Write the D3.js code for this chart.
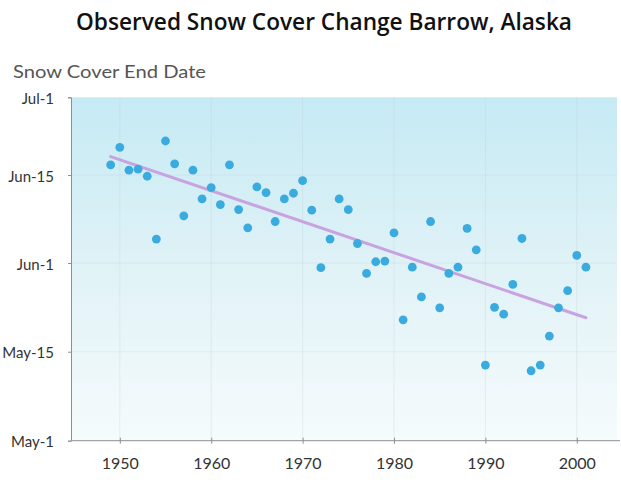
<!DOCTYPE html>
<html>
<head>
<meta charset="utf-8">
<script src="https://cdn.jsdelivr.net/npm/d3@7"></script>
<style>
  html, body { margin: 0; padding: 0; background: #ffffff; }
  svg { display: block; }
</style>
</head>
<body>
<svg id="chart" width="621" height="483"></svg>
<script>
// ---- data ----
const years = [1949,1950,1951,1952,1953,1954,1955,1956,1957,1958,1959,1960,1961,1962,1963,1964,1965,1966,1967,1968,1969,1970,1971,1972,1973,1974,1975,1976,1977,1978,1979,1980,1981,1982,1983,1984,1985,1986,1987,1988,1989,1990,1991,1992,1993,1994,1995,1996,1997,1998,1999,2000,2001];
// snow cover end date, days after May 1
const endDays = [47.1,50.7,46.0,46.2,44.8,34.8,52.0,47.3,38.5,46.0,41.2,43.0,40.3,47.1,39.5,36.6,43.1,42.2,37.6,41.2,42.1,44.1,39.4,30.1,34.8,41.2,39.5,34.1,29.0,31.2,31.3,35.8,20.1,30.2,24.5,37.6,22.4,29.0,30.2,36.5,33.1,11.9,22.5,21.2,26.9,34.9,11.0,11.9,17.0,22.4,25.7,32.2,30.2];
const trendYears = [1949, 2001];
const trendDays = [48.8, 20.5];
const yTickDays = [0, 14, 31, 45, 61];
const yTickLabels = ["May-1", "May-15", "Jun-1", "Jun-15", "Jul-1"];
const xTicks = [1950, 1960, 1970, 1980, 1990, 2000];
const titleText = "Observed Snow Cover Change Barrow, Alaska";
const yAxisTitle = "Snow Cover End Date";

// ---- layout ----
const svg = d3.select("#chart");
const pL = 71, pR = 617, pT = 97.3, pB = 440.7;

const x = d3.scaleLinear().domain([1944.66, 2004.4]).range([pL, pR]);
// tick positions in the original are evenly spaced, not linear in days
const y = d3.scaleLinear().domain(yTickDays).range([440.7, 351.7, 263, 175, 97.3]);

const defs = svg.append("defs");
const grad = defs.append("linearGradient").attr("id", "bg")
  .attr("x1", 0).attr("y1", 0).attr("x2", 0).attr("y2", 1);
grad.append("stop").attr("offset", "0%").attr("stop-color", "#c6eaf4");
grad.append("stop").attr("offset", "55%").attr("stop-color", "#e2f3f7");
grad.append("stop").attr("offset", "100%").attr("stop-color", "#f6fbfc");

svg.append("rect")
  .attr("x", pL).attr("y", pT)
  .attr("width", pR - pL).attr("height", pB - pT)
  .attr("fill", "url(#bg)");

// faint grid
svg.append("g").selectAll("line").data(xTicks).join("line")
  .attr("x1", d => x(d)).attr("x2", d => x(d))
  .attr("y1", pT).attr("y2", pB)
  .attr("stroke", "#b9ccd2").attr("stroke-opacity", 0.28).attr("stroke-width", 1);
svg.append("g").selectAll("line").data(yTickDays.slice(1, 4)).join("line")
  .attr("x1", pL).attr("x2", pR)
  .attr("y1", d => y(d)).attr("y2", d => y(d))
  .attr("stroke", "#b9ccd2").attr("stroke-opacity", 0.22).attr("stroke-width", 1);

// axes
const yAxis = d3.axisLeft(y).tickValues(yTickDays)
  .tickFormat((d, i) => yTickLabels[i]).tickSize(3).tickPadding(14);
const gy = svg.append("g").attr("transform", `translate(${pL},0)`).call(yAxis);
gy.select(".domain").attr("stroke", "#8a8f92");
gy.selectAll(".tick line").attr("stroke", "#8a8f92");
gy.selectAll("text").attr("font-family", "Lato, 'Open Sans', sans-serif")
  .attr("font-size", 15).attr("fill", "#333").attr("dy", "0.4em");

const xAxis = d3.axisBottom(x).tickValues(xTicks).tickFormat(d3.format("d"))
  .tickSize(3).tickPadding(14);
const gx = svg.append("g").attr("transform", `translate(0,${pB})`).call(xAxis);
gx.select(".domain").attr("stroke", "#8a8f92").attr("d", `M${pL},0H620`);
gx.selectAll(".tick line").attr("stroke", "#8a8f92").attr("y1", -3);
gx.selectAll("text").attr("font-family", "Lato, 'Open Sans', sans-serif")
  .attr("font-size", 16).attr("fill", "#333");

// trend line
const line = d3.line().x(d => x(d[0])).y(d => y(d[1]));
svg.append("path")
  .datum(trendYears.map((yr, i) => [yr, trendDays[i]]))
  .attr("d", line)
  .attr("fill", "none").attr("stroke", "#c9a3e0").attr("stroke-width", 3)
  .attr("stroke-linecap", "round");

// points
svg.append("g").selectAll("circle").data(years).join("circle")
  .attr("cx", d => x(d))
  .attr("cy", (d, i) => y(endDays[i]))
  .attr("r", 4.4)
  .attr("fill", "#3aabdf");

// titles
svg.append("text")
  .attr("x", 76).attr("y", 30)
  .attr("textLength", 496).attr("lengthAdjust", "spacingAndGlyphs")
  .attr("font-family", "'Open Sans', 'Noto Sans', sans-serif")
  .attr("font-weight", 600).attr("font-size", 23.5).attr("fill", "#111")
  .text(titleText);

svg.append("text")
  .attr("x", 13).attr("y", 78)
  .attr("textLength", 193).attr("lengthAdjust", "spacingAndGlyphs")
  .attr("font-family", "Lato, 'Open Sans', sans-serif")
  .attr("font-size", 17).attr("fill", "#555")
  .text(yAxisTitle);
</script>
</body>
</html>
